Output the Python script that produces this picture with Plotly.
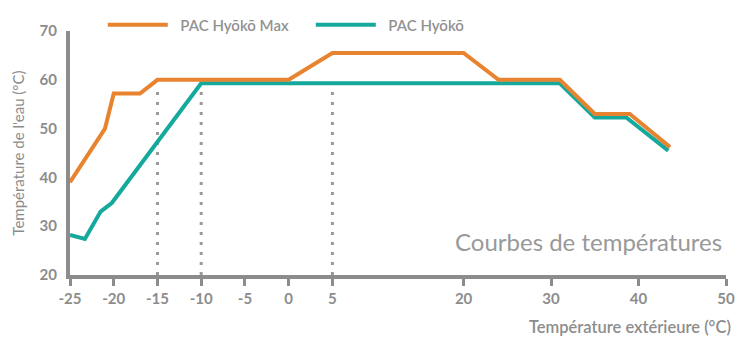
import plotly.graph_objects as go

# Data
max_x = [-25, -21, -20, -17, -15, 0, 5, 20, 24, 31, 35, 39, 43.6]
max_y = [39, 50, 57.2, 57.2, 60, 60, 65.5, 65.5, 60, 60, 53, 53, 46.2]
hyoko_x = [-25, -23.3, -21.5, -20.2, -10, 31, 35, 38.6, 43.4]
hyoko_y = [28.2, 27.4, 33, 34.8, 59.3, 59.3, 52.3, 52.3, 45.5]
ref_x = [-15, -10, 5]
ref_top = 58.8
x_ticks = [-25, -20, -15, -10, -5, 0, 5, 20, 30, 40, 50]
y_ticks = [20, 30, 40, 50, 60, 70]

ORANGE = "#e8832f"
TEAL = "#14a99c"
GRAY = "#8c8c8c"
FONT = "Lato"
PAD = "\u00a0\u00a0"

fig = go.Figure()

for xv in ref_x:
    fig.add_trace(go.Scatter(
        x=[xv, xv], y=[y_ticks[0], ref_top], mode="lines",
        line=dict(color="#9a9a9a", width=3, dash="3px,7px"),
        showlegend=False, hoverinfo="skip"))

fig.add_trace(go.Scatter(x=hyoko_x, y=hyoko_y, mode="lines", name=PAD + "PAC Hyōkō",
                         line=dict(color=TEAL, width=4)))
fig.add_trace(go.Scatter(x=max_x, y=max_y, mode="lines", name=PAD + "PAC Hyōkō Max",
                         line=dict(color=ORANGE, width=4)))

fig.update_layout(
    width=749, height=351,
    margin=dict(l=70, r=23, t=31, b=76, autoexpand=False),
    plot_bgcolor="white", paper_bgcolor="white",
    font=dict(family=FONT, color=GRAY),
    showlegend=True,
    legend=dict(orientation="h", x=0.05, xanchor="left", y=1.025, yanchor="middle",
                traceorder="reversed",
                font=dict(family=FONT, size=15, color="#929292", weight=600),
                itemwidth=60, entrywidth=133, entrywidthmode="pixels",
                bgcolor="rgba(0,0,0,0)"),
    xaxis=dict(range=[-25, 50], tickvals=x_ticks, ticktext=[str(v) for v in x_ticks],
               showgrid=False, zeroline=False, showline=True, linecolor=GRAY, linewidth=4,
               ticks="outside", ticklen=7, tickwidth=3, tickcolor=GRAY,
               tickfont=dict(family=FONT, size=15, color=GRAY, weight=700)),
    yaxis=dict(range=[20, 70], tickvals=y_ticks, showgrid=False, zeroline=False,
               showline=True, linecolor=GRAY, linewidth=4, ticks="", ticklabelstandoff=6,
               tickfont=dict(family=FONT, size=15, color=GRAY, weight=700),
               title=dict(text="Température de l'eau (°C)", standoff=12,
                          font=dict(family=FONT, size=15, color=GRAY, weight=400))),
)

fig.add_annotation(text="Température extérieure (°C)", xref="paper", yref="paper",
                   x=1.01, y=-0.213, xanchor="right", yanchor="middle", showarrow=False,
                   font=dict(family=FONT, size=16.5, color=GRAY, weight=600))
fig.add_annotation(text="Courbes de températures", xref="paper", yref="paper",
                   x=0.997, y=0.139, xanchor="right", yanchor="middle", showarrow=False,
                   font=dict(family=FONT, size=24, color="#999999"))

fig.write_html("out.html")
